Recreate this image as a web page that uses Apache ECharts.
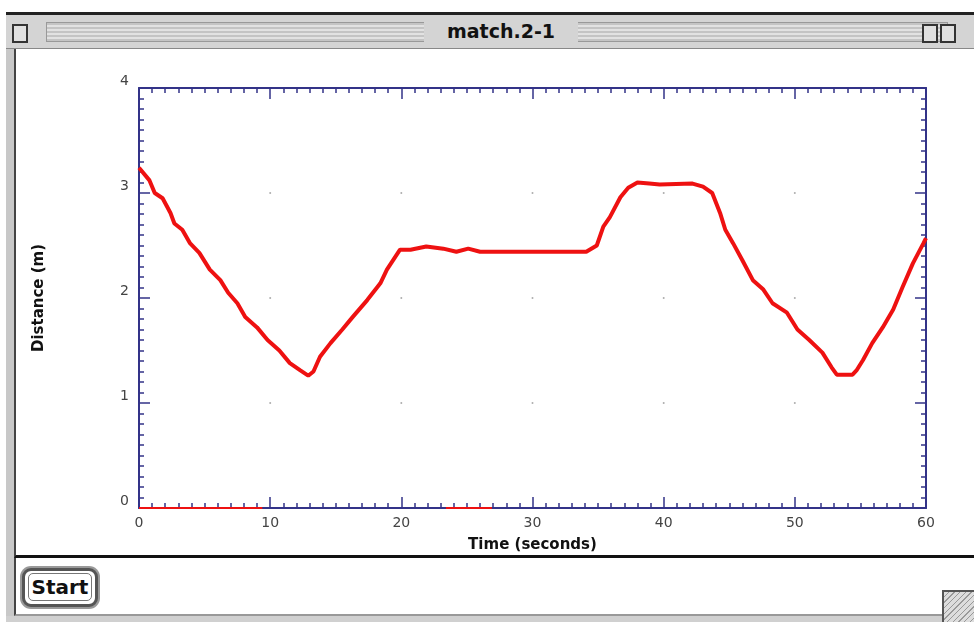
<!DOCTYPE html>
<html>
<head>
<meta charset="utf-8">
<title>match.2-1</title>
<script src="https://cdn.jsdelivr.net/npm/echarts@6/dist/echarts.min.js"></script>
<style>
  html, body { margin: 0; padding: 0; }
  body {
    width: 974px; height: 622px; position: relative; overflow: hidden;
    background: #fff; font-family: "DejaVu Sans", sans-serif;
  }
  .leftrim { position: absolute; left: 6px; top: 14px; width: 8px; height: 608px; background: #c8c8c8; }
  .topline { position: absolute; left: 6px; top: 12px; width: 968px; height: 3px; background: #222; }
  .titlebar {
    position: absolute; left: 6px; top: 15px; width: 968px; height: 33px;
    background: #d4d4d4; border-bottom: 1px solid #888;
  }
  .stripes {
    position: absolute; left: 40px; right: 26px; top: 7px; height: 18px;
    border: 1px solid #999;
    background: repeating-linear-gradient(to bottom, #c4c4c4 0 2px, #e2e2e2 2px 4px);
  }
  .title {
    position: absolute; left: 418px; width: 154px; top: 0; height: 33px;
    background: #d4d4d4; text-align: center; line-height: 33px;
    font-weight: bold; font-size: 19px; color: #111;
  }
  .closebox { position: absolute; left: 6px; top: 9px; width: 12px; height: 15px; border: 2px solid #333; background: #e0e0e0; }
  .zoombox { position: absolute; top: 9px; width: 12px; height: 15px; border: 2px solid #333; background: #e0e0e0; }
  .content {
    position: absolute; left: 14px; top: 49px; width: 960px; height: 506px;
    background: #fff; border-left: 2px solid #444; border-bottom: 3px solid #111;
  }
  .panel {
    position: absolute; left: 14px; top: 558px; width: 960px; height: 56px;
    background: #fff; border-left: 2px solid #444; border-bottom: 2px solid #999;
  }
  .bottomrim { position: absolute; left: 6px; top: 616px; width: 968px; height: 6px; background: #d0d0d0; }
  .grip {
    position: absolute; left: 942px; top: 590px; width: 32px; height: 32px;
    background: repeating-linear-gradient(135deg, #ddd 0 3px, #999 3px 4px);
    border-left: 2px solid #555; border-top: 2px solid #555;
  }
  .start {
    position: absolute; left: 22px; top: 568px; width: 70px; height: 33px;
    border: 3px solid #555; border-radius: 9px; box-shadow: 0 0 0 2px #999;
    text-align: center; line-height: 33px; font-weight: bold; font-size: 20px; color: #111; background: #fff;
  }
  .start span { display: inline-block; border: 1px solid #777; border-radius: 5px; padding: 0 3px; line-height: 26px; }
  #chart { position: absolute; left: 0; top: 0; width: 974px; height: 622px; }
</style>
</head>
<body>
  <div class="leftrim"></div>
  <div class="topline"></div>
  <div class="titlebar">
    <div class="stripes"></div>
    <div class="title">match.2-1</div>
    <div class="closebox"></div>
    <div class="zoombox" style="left:916px"></div>
    <div class="zoombox" style="left:934px"></div>
  </div>
  <div class="content"></div>
  <div class="panel"></div>
  <div class="bottomrim"></div>
  <div class="grip"></div>
  <div class="start"><span>Start</span></div>
  <div id="chart"></div>

<script>
// distance trace (seconds, metres)
const times = [0, 0.8, 1.2, 1.8, 2.4, 2.7, 3.3, 3.9, 4.6, 5.4, 6.2, 6.8, 7.5, 8.1, 9.0, 9.8,
  10.7, 11.5, 12.3, 12.9, 13.3, 13.8, 14.6, 15.5, 16.3, 17.4, 18.4, 18.9, 19.9, 20.7,
  21.9, 23.2, 24.2, 25.1, 26.0, 30.0, 34.1, 34.9, 35.4, 35.9, 36.7, 37.3, 38.0, 38.9,
  39.7, 42.2, 43.0, 43.7, 44.3, 44.7, 45.3, 46.0, 46.8, 47.6, 48.3, 49.4, 50.2, 51.1,
  52.1, 52.8, 53.2, 54.4, 54.7, 55.2, 55.9, 56.7, 57.5, 58.2, 59.0, 59.8, 60];
const distances = [3.24, 3.12, 3.0, 2.95, 2.81, 2.71, 2.65, 2.52, 2.43, 2.27, 2.17, 2.05, 1.95, 1.82, 1.72, 1.6,
  1.5, 1.38, 1.31, 1.26, 1.3, 1.44, 1.57, 1.7, 1.82, 1.98, 2.14, 2.27, 2.46, 2.46,
  2.49, 2.47, 2.44, 2.47, 2.44, 2.44, 2.44, 2.5, 2.68, 2.77, 2.96, 3.05, 3.1, 3.09,
  3.08, 3.09, 3.06, 3.0, 2.81, 2.65, 2.52, 2.36, 2.17, 2.08, 1.95, 1.86, 1.7, 1.6,
  1.48, 1.34, 1.27, 1.27, 1.31, 1.41, 1.57, 1.72, 1.89, 2.1, 2.33, 2.52, 2.57];
// red runs lying on the zero line (start, end in seconds)
const zeroRuns = [[0, 9.4], [23.4, 26.9]];
// major ticks
const xTicks = [0, 10, 20, 30, 40, 50, 60];
const yTicks = [0, 1, 2, 3, 4];

const axisColor = "#333388";
const chart = echarts.init(document.getElementById("chart"));

// faint dots where the major grid lines cross
const gridDots = [];
xTicks.slice(1, -1).forEach(function (x) {
  yTicks.slice(1, -1).forEach(function (y) { gridDots.push([x, y]); });
});

const frameAxis = function (extra) {
  return Object.assign({
    type: "value",
    axisLine: { show: true, onZero: false, lineStyle: { color: axisColor, width: 2 } },
    axisTick: { show: true, inside: true, length: 11, lineStyle: { color: axisColor, width: 1.5 } },
    minorTick: { show: true, splitNumber: 10, length: 5, lineStyle: { color: axisColor, width: 1.5 } },
    splitLine: { show: false },
  }, extra);
};

const labelStyle = { color: "#444", fontSize: 14, fontFamily: "DejaVu Sans" };
const nameStyle = { color: "#111", fontSize: 15, fontWeight: "bold", fontFamily: "DejaVu Sans" };

const series = [
  {
    type: "scatter",
    data: gridDots,
    symbolSize: 2,
    itemStyle: { color: "#999" },
    silent: true,
  },
  {
    type: "line",
    data: times.map(function (t, i) { return [t, distances[i]]; }),
    showSymbol: false,
    lineStyle: { color: "#ee1111", width: 4 },
    z: 5,
  },
];
zeroRuns.forEach(function (run) {
  series.push({
    type: "line",
    data: [[run[0], 0], [run[1], 0]],
    showSymbol: false,
    lineStyle: { color: "#ee1111", width: 2 },
    z: 6,
  });
});

chart.setOption({
  animation: false,
  grid: { left: 139, right: 48, top: 88, bottom: 114, containLabel: false },
  xAxis: [
    frameAxis({
      min: 0, max: 60, interval: 10,
      axisLabel: Object.assign({ margin: 8 }, labelStyle),
      name: "Time (seconds)", nameLocation: "middle", nameGap: 30, nameTextStyle: nameStyle,
    }),
    frameAxis({ min: 0, max: 60, interval: 10, position: "top", axisLabel: { show: false } }),
  ],
  yAxis: [
    frameAxis({
      min: 0, max: 4, interval: 1,
      axisLabel: Object.assign({ margin: 10, verticalAlign: "bottom" }, labelStyle),
      name: "Distance (m)", nameLocation: "middle", nameGap: 92, nameTextStyle: nameStyle,
    }),
    frameAxis({ min: 0, max: 4, interval: 1, position: "right", axisLabel: { show: false } }),
  ],
  series: series,
});
</script>
</body>
</html>
